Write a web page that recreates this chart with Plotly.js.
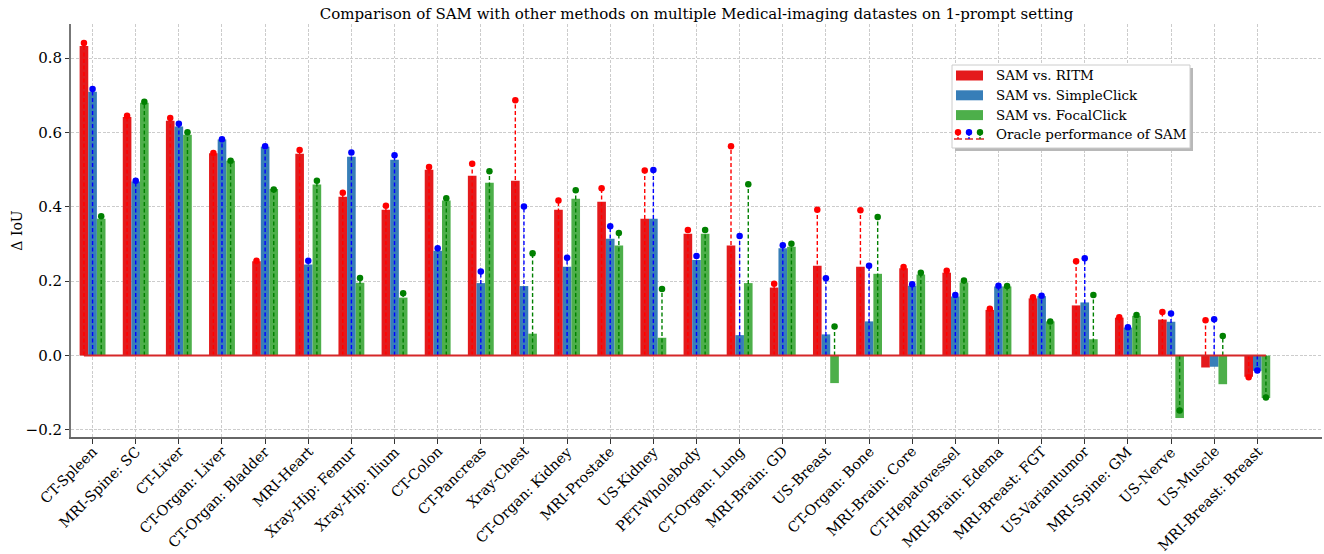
<!DOCTYPE html>
<html>
<head>
<meta charset="utf-8">
<script src="https://cdn.plot.ly/plotly-3.0.1.min.js"></script>
<style>html,body{margin:0;padding:0;background:#fff;}#chart{width:1324px;height:554px;}</style>
</head>
<body>
<div id="chart"></div>
<script>
const categories = ["CT-Spleen","MRI-Spine: SC","CT-Liver","CT-Organ: Liver","CT-Organ: Bladder","MRI-Heart","Xray-Hip: Femur","Xray-Hip: Ilium","CT-Colon","CT-Pancreas","Xray-Chest","CT-Organ: Kidney","MRI-Prostate","US-Kidney","PET-Wholebody","CT-Organ: Lung","MRI-Brain: GD","US-Breast","CT-Organ: Bone","MRI-Brain: Core","CT-Hepatovessel","MRI-Brain: Edema","MRI-Breast: FGT","US-Variantumor","MRI-Spine: GM","US-Nerve","US-Muscle","MRI-Breast: Breast"];

const ritm = [0.833,0.642,0.632,0.544,0.254,0.543,0.427,0.392,0.500,0.484,0.470,0.392,0.414,0.368,0.328,0.296,0.183,0.242,0.239,0.235,0.223,0.123,0.154,0.135,0.102,0.097,-0.032,-0.057];
const simpleClick = [0.710,0.468,0.616,0.581,0.562,0.245,0.535,0.527,0.282,0.195,0.187,0.239,0.314,0.368,0.257,0.055,0.289,0.057,0.092,0.188,0.159,0.186,0.160,0.143,0.075,0.091,-0.030,-0.041];
const focalClick = [0.368,0.680,0.594,0.524,0.448,0.460,0.196,0.156,0.417,0.465,0.059,0.422,0.296,0.048,0.328,0.195,0.293,-0.074,0.220,0.218,0.197,0.186,0.092,0.044,0.107,-0.168,-0.077,-0.114];

const oracleRitm = [0.841,0.645,0.639,0.545,0.255,0.553,0.438,0.403,0.507,0.516,0.687,0.417,0.450,0.498,0.338,0.563,0.193,0.392,0.391,0.238,0.228,0.126,0.157,0.254,0.103,0.117,0.095,-0.058];
const oracleSimpleClick = [0.717,0.470,0.624,0.582,0.563,0.255,0.546,0.539,0.289,0.226,0.401,0.263,0.348,0.499,0.268,0.322,0.297,0.208,0.242,0.192,0.163,0.188,0.161,0.262,0.076,0.113,0.098,-0.040];
const oracleFocalClick = [0.375,0.683,0.601,0.524,0.447,0.470,0.209,0.168,0.423,0.496,0.275,0.445,0.330,0.179,0.338,0.461,0.301,0.078,0.373,0.223,0.202,0.187,0.092,0.163,0.109,-0.148,0.053,-0.113];

const seriesNames = ["SAM vs. RITM","SAM vs. SimpleClick","SAM vs. FocalClick"];
const oracleName = "Oracle performance of SAM";
const titleText = "Comparison of SAM with other methods on multiple Medical-imaging datastes on 1-prompt setting";

// styles
const barColors = ["#e41a1c","#377eb8","#4daf4a"];
const stemColors = ["#ff0000","#0000ff","#008000"];
const W = 0.2;
const FONT = "DejaVu Serif, serif";
const idx = categories.map((_, i) => i);

const traces = [];
const barVals = [ritm, simpleClick, focalClick];
const oracles = [oracleRitm, oracleSimpleClick, oracleFocalClick];
barVals.forEach((vals, s) => {
  traces.push({
    type: "bar", x: idx, y: vals, name: seriesNames[s],
    marker: {color: barColors[s], line: {width: 0}},
    showlegend: false, hoverinfo: "skip"
  });
});
oracles.forEach((vals, s) => {
  const off = (s - 1) * W;
  const sx = [], sy = [];
  vals.forEach((v, i) => { sx.push(i + off, i + off, null); sy.push(0, v, null); });
  traces.push({
    type: "scatter", mode: "lines", x: sx, y: sy,
    line: {color: stemColors[s], width: 1.4, dash: "4px,2.5px"},
    showlegend: false, hoverinfo: "skip"
  });
});
// baseline
traces.push({
  type: "scatter", mode: "lines",
  x: [-W, categories.length - 1 + W], y: [0, 0],
  line: {color: "#d62728", width: 2}, showlegend: false, hoverinfo: "skip"
});
oracles.forEach((vals, s) => {
  const off = (s - 1) * W;
  traces.push({
    type: "scatter", mode: "markers", x: idx.map(i => i + off), y: vals,
    marker: {color: stemColors[s], size: 6.5, line: {width: 0}},
    name: oracleName, showlegend: false, hoverinfo: "skip"
  });
});

// manual legend (pixel -> paper)
const ML = 71, MR = 2, MT = 24, MB = 117;
const PW = 1324 - ML - MR, PH = 554 - MT - MB;
const xp = px => (px - ML) / PW;
const yp = py => (554 - MB - py) / PH;
const shapes = [];
const annotations = [];
shapes.push({type:"rect", xref:"paper", yref:"paper", x0:xp(955), x1:xp(1193), y0:yp(68), y1:yp(151), fillcolor:"#b8b8b8", line:{width:0}, layer:"above"});
shapes.push({type:"rect", xref:"paper", yref:"paper", x0:xp(952), x1:xp(1190), y0:yp(65), y1:yp(148), fillcolor:"#ffffff", line:{color:"#cccccc", width:1}, layer:"above"});
const rowY = [75.5, 95.3, 115.1, 134.9];
const LEGFONT = 13.4;
barColors.forEach((c, s) => {
  shapes.push({type:"rect", xref:"paper", yref:"paper", x0:xp(956), x1:xp(983), y0:yp(rowY[s]-5), y1:yp(rowY[s]+5), fillcolor:c, line:{width:0}, layer:"above"});
  annotations.push({xref:"paper", yref:"paper", x:xp(994), y:yp(rowY[s]), xanchor:"left", yanchor:"middle", text:seriesNames[s], showarrow:false, font:{family:FONT, size:LEGFONT, color:"#000"}});
});
[958, 969, 980].forEach((cx, s) => {
  shapes.push({type:"line", xref:"paper", yref:"paper", x0:xp(cx-4), x1:xp(cx+4), y0:yp(139), y1:yp(139), line:{color:"#d62728", width:1.5}, layer:"above"});
  shapes.push({type:"line", xref:"paper", yref:"paper", x0:xp(cx), x1:xp(cx), y0:yp(139), y1:yp(132), line:{color:stemColors[s], width:1.3, dash:"2px,1px"}, layer:"above"});
  shapes.push({type:"circle", xref:"paper", yref:"paper", x0:xp(cx-3.2), x1:xp(cx+3.2), y0:yp(129), y1:yp(135.4), fillcolor:stemColors[s], line:{width:0}, layer:"above"});
});
annotations.push({xref:"paper", yref:"paper", x:xp(994), y:yp(rowY[3]), xanchor:"left", yanchor:"middle", text:oracleName, showarrow:false, font:{family:FONT, size:LEGFONT, color:"#000"}});

// x tick labels, matplotlib-style (rotated bbox aligned right/top at the tick)
categories.forEach((c, i) => {
  annotations.push({xref:"x", yref:"paper", x:i, y:0, yshift:-5, xshift:9, xanchor:"right", yanchor:"top", textangle:-45, borderpad:0, text:c, showarrow:false, font:{family:FONT, size:14.3, color:"#000"}});
});

const layout = {
  width: 1324, height: 554,
  margin: {l: ML, r: MR, t: MT, b: MB, pad: 0},
  paper_bgcolor: "#fff", plot_bgcolor: "#fff",
  barmode: "group", bargap: 0.4, bargroupgap: 0,
  font: {family: FONT, color: "#000"},
  title: {text: titleText, x: 0.5, xref: "paper", xanchor: "center", y: 1 - 14/554, yref: "container", yanchor: "middle", font: {family: FONT, size: 15, color: "#000"}},
  xaxis: {
    range: [-0.5, 28.5], tickmode: "array", tickvals: idx, showticklabels: false,
    ticks: "outside", ticklen: 5, tickcolor: "#333", tickwidth: 1,
    showgrid: true, gridcolor: "#cccccc", gridwidth: 1, griddash: "3px,1.5px",
    zeroline: false, showline: true, linecolor: "#666", linewidth: 2, mirror: false
  },
  yaxis: {
    range: [-0.219, 0.892], tickvals: [-0.2, 0, 0.2, 0.4, 0.6, 0.8], tickformat: ".1f",
    tickfont: {family: FONT, size: 15, color: "#000"},
    ticks: "outside", ticklen: 4, tickcolor: "#333", tickwidth: 1,
    showgrid: true, gridcolor: "#cccccc", gridwidth: 1, griddash: "3px,1.5px",
    zeroline: false, showline: true, linecolor: "#777", linewidth: 2,
    title: {text: "Δ IoU", standoff: 0, font: {family: FONT, size: 14, color: "#000"}}
  },
  shapes: shapes, annotations: annotations, showlegend: false
};
Plotly.newPlot("chart", traces, layout, {staticPlot: true, displayModeBar: false});
</script>
</body>
</html>
